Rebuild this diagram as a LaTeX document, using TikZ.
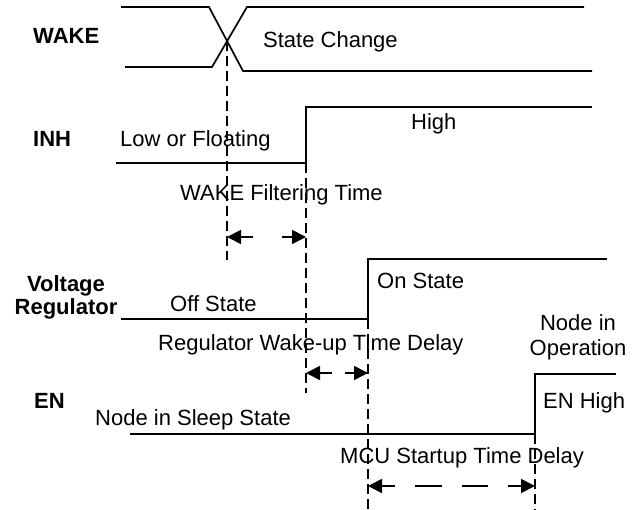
\documentclass[tikz,border=0pt]{standalone}
\usepackage{fontspec}
\setmainfont{Liberation Sans}
\usetikzlibrary{arrows.meta}
\begin{document}
\begin{tikzpicture}[x=1pt,y=-1pt,
  sig/.style={line width=1.7pt,line join=miter},
  marker/.style={line width=1.7pt,dash pattern=on 10pt off 5pt},
  dimarrow/.style={line width=1.7pt,-{Triangle[length=14pt,width=14pt]}},
  dimline/.style={line width=1.7pt},
  lbl/.style={anchor=base west,inner sep=0pt,font=\fontsize{22}{24}\selectfont},
  lblc/.style={anchor=base,inner sep=0pt,font=\fontsize{22}{24}\selectfont},
  signame/.style={anchor=base west,inner sep=0pt,font=\fontsize{22}{24}\selectfont\bfseries},
  signamec/.style={anchor=base,inner sep=0pt,font=\fontsize{22}{24}\selectfont\bfseries}]
\useasboundingbox (0,0) rectangle (639,510);

% signal names
\node[signame] (nwake) at (33,44) {WAKE};
\node[signame] (ninh) at (33,147) {INH};
\node[signamec] (nvr1) at (66,291) {Voltage};
\node[signamec] (nvr2) at (66,314) {Regulator};
\node[signame] (nen) at (34,408) {EN};

% WAKE waveform
\coordinate (wa1) at (121,7);
\coordinate (wa2) at (209,7);
\coordinate (wa3) at (243,71);
\coordinate (wa4) at (592,71);
\coordinate (wb1) at (125,67);
\coordinate (wb2) at (212,67);
\coordinate (wb3) at (247,7);
\coordinate (wb4) at (584,7);
\draw[sig] (wa1) -- (wa2) -- (wa3) -- (wa4);
\draw[sig] (wb1) -- (wb2) -- (wb3) -- (wb4);
\node[lbl] (tstate) at (263,48) {State Change};

% INH waveform
\coordinate (i1) at (116,163);
\coordinate (i2) at (306,163);
\coordinate (i3) at (306,107);
\coordinate (i4) at (592,107);
\draw[sig] (i1) -- (i2) -- (i3) -- (i4);
\node[lbl] (tlow) at (120,147) {Low or Floating};
\node[lbl] (thigh) at (411,130) {High};

% Voltage regulator waveform
\coordinate (v1) at (121,319);
\coordinate (v2) at (368,319);
\coordinate (v3) at (368,259);
\coordinate (v4) at (607,259);
\draw[sig] (v1) -- (v2) -- (v3) -- (v4);
\node[lbl] (toff) at (170,312) {Off State};
\node[lbl] (ton) at (377,289) {On State};

% EN waveform
\coordinate (e1) at (130,434);
\coordinate (e2) at (535,434);
\coordinate (e3) at (535,374);
\coordinate (e4) at (616,374);
\draw[sig] (e1) -- (e2) -- (e3) -- (e4);
\node[lbl] (tsleep) at (95,425) {Node in Sleep State};
\node[lbl] (tenh) at (543,408) {EN High};
\node[lblc] (top1) at (578,330) {Node in};
\node[lblc] (top2) at (578,355) {Operation};

% timing markers
\coordinate (m1a) at (227,41);
\coordinate (m1b) at (227,260);
\coordinate (m2b) at (306,393);
\coordinate (m3b) at (368,510);
\coordinate (m4b) at (535,510);
\draw[marker] (m1a) -- (m1b);
\draw[marker] (i2) -- (m2b);
\draw[marker] (v2) -- (m3b);
\draw[marker] (e2) -- (m4b);

% WAKE filtering time
\node[lbl] (tfilt) at (180,201) {WAKE Filtering Time};
\coordinate (f1) at (253,237);
\coordinate (f1t) at (227,237);
\coordinate (f2) at (282,237);
\coordinate (f2t) at (306,237);
\draw[dimarrow] (f1) -- (f1t);
\draw[dimarrow] (f2) -- (f2t);

% Regulator wake-up time delay
\node[lbl] (treg) at (158,350) {Regulator Wake-up Time Delay};
\coordinate (r1) at (332,373);
\coordinate (r1t) at (306,373);
\coordinate (r2) at (345,373);
\coordinate (r2t) at (368,373);
\draw[dimarrow] (r1) -- (r1t);
\draw[dimarrow] (r2) -- (r2t);

% MCU startup time delay
\node[lbl] (tmcu) at (340,463) {MCU Startup Time Delay};
\coordinate (c1) at (395,486);
\coordinate (c1t) at (368,486);
\coordinate (c2a) at (415,486);
\coordinate (c2b) at (442,486);
\coordinate (c3a) at (462,486);
\coordinate (c3b) at (488,486);
\coordinate (c4) at (508,486);
\coordinate (c4t) at (535,486);
\draw[dimarrow] (c1) -- (c1t);
\draw[dimline] (c2a) -- (c2b);
\draw[dimline] (c3a) -- (c3b);
\draw[dimarrow] (c4) -- (c4t);
\end{tikzpicture}
\end{document}
